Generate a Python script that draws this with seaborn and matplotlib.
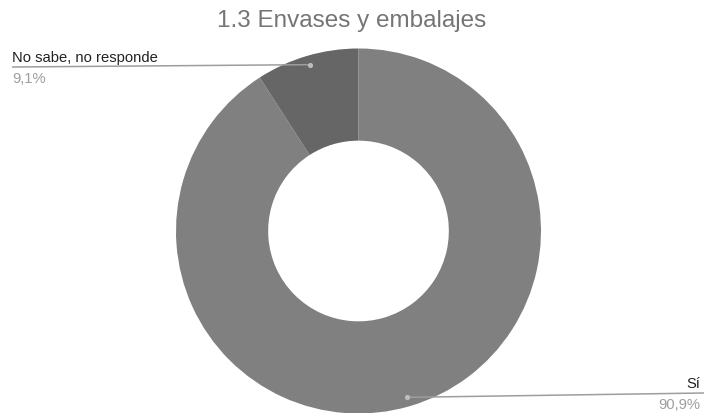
import numpy as np
import matplotlib
matplotlib.use("Agg")
import matplotlib.pyplot as plt
import seaborn as sns

labels = ["Sí", "No sabe, no responde"]
values = [90.9, 9.1]
pct_labels = ["90,9%", "9,1%"]
colors = ["#808080", "#666666"]

sns.set_theme(style="white")
plt.rcParams['font.family'] = ['Liberation Sans', 'DejaVu Sans']

fig = plt.figure(figsize=(7.04, 4.14), dpi=100)
ax = fig.add_axes([0, 0, 1, 1])

cx, cy, R = 358.5, 182, 182.5
wedges, _ = ax.pie(values, colors=colors, startangle=90, counterclock=False,
                   radius=R, center=(cx, cy), frame=True,
                   wedgeprops=dict(width=R * 0.505, linewidth=0))
ax.set_xlim(0, 704)
ax.set_ylim(0, 414)
ax.set_aspect('equal')
ax.axis('off')

# leader lines + labels
label_pos = {0: (704, 20, 'right'), 1: (12, 346, 'left')}
for i, w in enumerate(wedges):
    ang = np.deg2rad((w.theta1 + w.theta2) / 2)
    px, py = cx + 0.95 * R * np.cos(ang), cy + 0.95 * R * np.sin(ang)
    lx, ly, ha = label_pos[i]
    ax.plot([px, lx], [py, ly], color="#9e9e9e", lw=1.1, solid_capstyle='butt')
    ax.scatter([px], [py], s=14, color="#bdbdbd", zorder=5, linewidths=0)
    tx = lx - 4 if ha == 'right' else lx
    ax.text(tx, ly + 3, labels[i], ha=ha, va='bottom', fontsize=10.6, color="#222222")
    ax.text(tx, ly - 4, pct_labels[i], ha=ha, va='top', fontsize=10.6, color="#9e9e9e")

fig.text(0.5, 1 - 21 / 414, "1.3 Envases y embalajes", ha='center', va='center',
         fontsize=17.5, color="#757575")

fig.savefig("out.png", dpi=100)
